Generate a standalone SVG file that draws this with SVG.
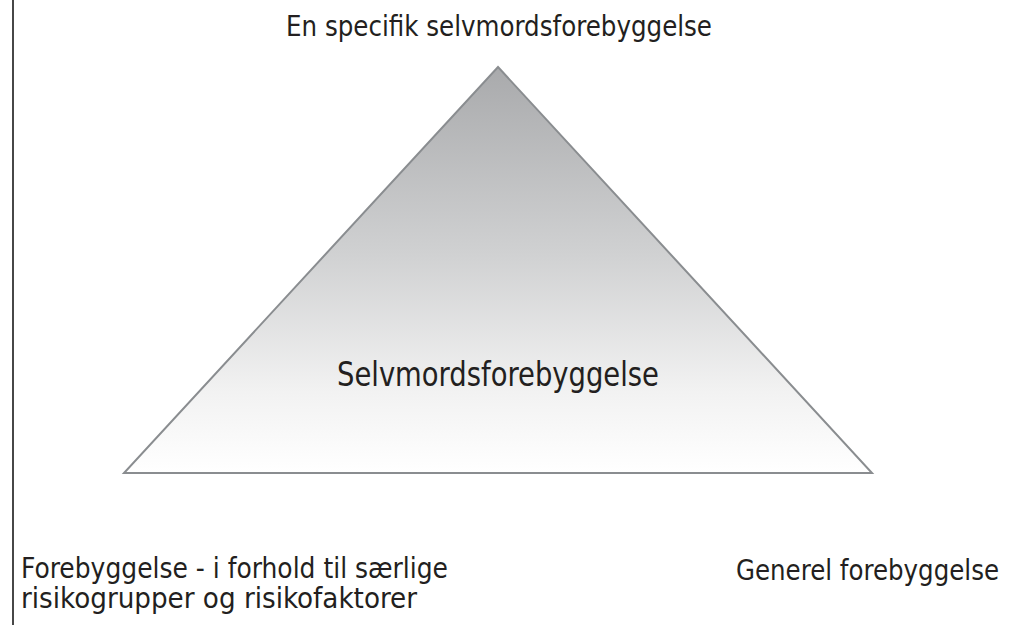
<svg xmlns="http://www.w3.org/2000/svg" width="1024" height="625" viewBox="0 0 1024 625">
<defs>
<linearGradient id="g" x1="0" y1="0" x2="0" y2="1">
<stop offset="0" stop-color="#a9aaac"/>
<stop offset="0.45" stop-color="#cfd0d1"/>
<stop offset="0.8" stop-color="#f2f2f2"/>
<stop offset="1" stop-color="#ffffff"/>
</linearGradient>
<style>
text{font-family:"DejaVu Sans Condensed","DejaVu Sans",sans-serif;font-stretch:condensed;font-size:28.5px;fill:#231f20}
.big{font-size:34px}
</style>
</defs>
<rect width="1024" height="625" fill="#ffffff"/>
<line x1="13" y1="0" x2="13" y2="625" stroke="#333333" stroke-width="1.8"/>
<g id="pyramid">
<polygon points="498,67 872,473 124,473" fill="url(#g)" stroke="#8a8d90" stroke-width="2" stroke-linejoin="miter"/>
<text class="big" x="337" y="386" textLength="322" lengthAdjust="spacingAndGlyphs">Selvmordsforebyggelse</text>
</g>
<g id="top-label">
<text x="286" y="36" textLength="426" lengthAdjust="spacingAndGlyphs">En specifik selvmordsforebyggelse</text>
</g>
<g id="left-label">
<text x="21" y="578" textLength="427" lengthAdjust="spacingAndGlyphs">Forebyggelse - i forhold til særlige</text>
<text x="21" y="608" textLength="396" lengthAdjust="spacingAndGlyphs">risikogrupper og risikofaktorer</text>
</g>
<g id="right-label">
<text x="736" y="580" textLength="263" lengthAdjust="spacingAndGlyphs">Generel forebyggelse</text>
</g>
<g id="connectors"/>
</svg>
